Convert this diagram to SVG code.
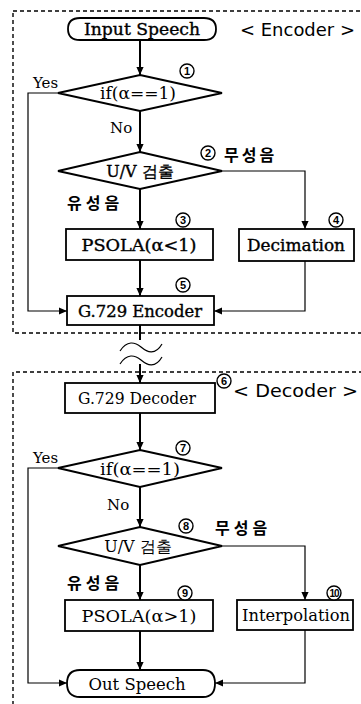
<svg xmlns="http://www.w3.org/2000/svg" width="361" height="704" viewBox="0 0 361 704">
<style>
.bg{fill:#fff}
.frame{fill:none;stroke:#000;stroke-width:1.4;stroke-dasharray:4 3}
.shape{fill:#fff;stroke:#000;stroke-width:1.8}
.thick{fill:none;stroke:#000;stroke-width:2}
.thin{fill:none;stroke:#000;stroke-width:1.2}
.lbl{font-family:"DejaVu Serif","Liberation Serif",serif;font-size:16px;fill:#000;text-anchor:middle}
.b{stroke:#000;stroke-width:0.35}
.side{font-family:"DejaVu Sans","Liberation Sans",sans-serif;font-size:17px;fill:#000}
.kr{font-family:"Noto Sans CJK KR",sans-serif;font-size:16px;font-weight:bold;fill:#000}
.ring{fill:#fff;stroke:#000;stroke-width:1.4}
.num{font-family:"Liberation Sans","DejaVu Sans",sans-serif;font-size:11px;font-weight:bold;fill:#000;text-anchor:middle}
.num10{font-family:"Liberation Sans","DejaVu Sans",sans-serif;font-size:10px;font-weight:bold;fill:#000;text-anchor:middle;letter-spacing:-1px}
.yn{font-family:"DejaVu Serif","Liberation Serif",serif;font-size:15px;fill:#000}
</style>
<defs>
<marker id="ah" viewBox="0 0 10 10" refX="10" refY="5" markerWidth="8" markerHeight="8" markerUnits="userSpaceOnUse" orient="auto">
<path d="M0,0.5 L10,5 L0,9.5 Z" fill="#000"/>
</marker>
</defs>
<rect class="bg" x="0" y="0" width="361" height="704"/>

<g id="encoder-frame">
<rect class="frame" x="13" y="11" width="360" height="322"/>
<text class="side" x="240" y="36" textLength="115" lengthAdjust="spacingAndGlyphs">&lt; Encoder &gt;</text>
</g>
<g id="decoder-frame">
<path class="frame" d="M13,712 V372 H373"/>
<text class="side" x="233" y="397" textLength="125" lengthAdjust="spacingAndGlyphs">&lt; Decoder &gt;</text>
</g>

<g id="connectors">
<path class="thick" d="M140,40 V75" marker-end="url(#ah)"/>
<path class="thick" d="M140,111 V152" marker-end="url(#ah)"/>
<path class="thin" d="M58,93 H28 V311 H67" marker-end="url(#ah)"/>
<path class="thick" d="M140,189 V229" marker-end="url(#ah)"/>
<path class="thin" d="M222,171 H305 V229" marker-end="url(#ah)"/>
<path class="thick" d="M140,260 V296" marker-end="url(#ah)"/>
<path class="thin" d="M305,261 V311 H214" marker-end="url(#ah)"/>
<path class="thick" d="M140,325 V340"/>
<path class="thin" d="M120,351 C127,340 135,342 141,347 C147,352 155,356 162,344"/>
<path class="thin" d="M120,364 C127,353 135,355 141,360 C147,365 155,369 162,357"/>
<path class="thick" d="M140,364 V383" marker-end="url(#ah)"/>
<path class="thick" d="M140,413 V450" marker-end="url(#ah)"/>
<path class="thin" d="M58,468 H28 V683 H67" marker-end="url(#ah)"/>
<path class="thick" d="M140,487 V527" marker-end="url(#ah)"/>
<path class="thin" d="M222,546 H305 V600" marker-end="url(#ah)"/>
<path class="thick" d="M140,565 V600" marker-end="url(#ah)"/>
<path class="thick" d="M140,631 V670" marker-end="url(#ah)"/>
<path class="thin" d="M305,630 V683 H215" marker-end="url(#ah)"/>
</g>

<g id="input-speech">
<path class="shape" d="M80,18 H204 Q216,18 216,29 Q216,40 204,40 H80 Q68,40 68,29 Q68,18 80,18 Z"/>
<text class="lbl b" x="142" y="35" textLength="116" lengthAdjust="spacingAndGlyphs">Input Speech</text>
</g>
<g id="cond1">
<polygon class="shape" points="140,75 222,93 140,111 58,93"/>
<text class="lbl" x="138" y="99" textLength="76" lengthAdjust="spacingAndGlyphs">if(α==1)</text>
<circle class="ring" cx="187" cy="71" r="7"/><text class="num" x="187" y="75">1</text>
<text class="yn" x="33" y="88">Yes</text>
<text class="yn" x="110" y="133">No</text>
</g>
<g id="uv1">
<polygon class="shape" points="140,152 222,171 140,189 58,171"/>
<text class="lbl b" x="140" y="177" font-family="DejaVu Serif, Noto Sans CJK KR, serif">U/V 검출</text>
<circle class="ring" cx="208" cy="153" r="7"/><text class="num" x="208" y="157">2</text>
<text class="kr" x="224" y="161" letter-spacing="3">무성음</text>
<text class="kr" x="67" y="209" letter-spacing="4">유성음</text>
</g>
<g id="psola1">
<rect class="shape" x="66" y="229" width="147" height="31"/>
<text class="lbl b" x="139" y="251" textLength="115" lengthAdjust="spacingAndGlyphs">PSOLA(α&lt;1)</text>
<circle class="ring" cx="183" cy="220" r="7"/><text class="num" x="183" y="224">3</text>
</g>
<g id="decimation">
<rect class="shape" x="239" y="229" width="115" height="32"/>
<text class="lbl b" x="296" y="251" textLength="98" lengthAdjust="spacingAndGlyphs">Decimation</text>
<circle class="ring" cx="336" cy="220" r="7"/><text class="num" x="336" y="224">4</text>
</g>
<g id="g729-encoder">
<rect class="shape" x="67" y="296" width="147" height="29"/>
<text class="lbl b" x="140" y="317" textLength="124" lengthAdjust="spacingAndGlyphs">G.729 Encoder</text>
<circle class="ring" cx="183" cy="285" r="7"/><text class="num" x="183" y="289">5</text>
</g>

<g id="g729-decoder">
<rect class="shape" x="65" y="383" width="150" height="30"/>
<text class="lbl" x="137" y="404" textLength="118" lengthAdjust="spacingAndGlyphs">G.729 Decoder</text>
<circle class="ring" cx="224" cy="381" r="7"/><text class="num" x="224" y="385">6</text>
</g>
<g id="cond2">
<polygon class="shape" points="140,450 222,468 140,487 58,468"/>
<text class="lbl" x="140" y="475" textLength="80" lengthAdjust="spacingAndGlyphs">if(α==1)</text>
<circle class="ring" cx="183" cy="448" r="7"/><text class="num" x="183" y="452">7</text>
<text class="yn" x="33" y="463">Yes</text>
<text class="yn" x="107" y="510">No</text>
</g>
<g id="uv2">
<polygon class="shape" points="140,527 222,546 140,565 58,546"/>
<text class="lbl" x="138" y="552" font-family="DejaVu Serif, Noto Sans CJK KR, serif">U/V 검출</text>
<circle class="ring" cx="186" cy="526" r="7"/><text class="num" x="186" y="530">8</text>
<text class="kr" x="215" y="534" letter-spacing="4">무성음</text>
<text class="kr" x="67" y="589" letter-spacing="4">유성음</text>
</g>
<g id="psola2">
<rect class="shape" x="65" y="600" width="148" height="31"/>
<text class="lbl" x="139" y="622" textLength="115" lengthAdjust="spacingAndGlyphs">PSOLA(α&gt;1)</text>
<circle class="ring" cx="185" cy="593" r="7"/><text class="num" x="185" y="597">9</text>
</g>
<g id="interpolation">
<rect class="shape" x="237" y="600" width="116" height="30"/>
<text class="lbl" x="296" y="621" textLength="108" lengthAdjust="spacingAndGlyphs">Interpolation</text>
<circle class="ring" cx="334" cy="593" r="7"/><text class="num10" x="334" y="596.5">10</text>
</g>
<g id="out-speech">
<path class="shape" d="M80,670 H203 Q215,670 215,683.5 Q215,697 203,697 H80 Q67,697 67,683.5 Q67,670 80,670 Z"/>
<text class="lbl" x="137" y="690" textLength="97" lengthAdjust="spacingAndGlyphs">Out Speech</text>
</g>
</svg>
